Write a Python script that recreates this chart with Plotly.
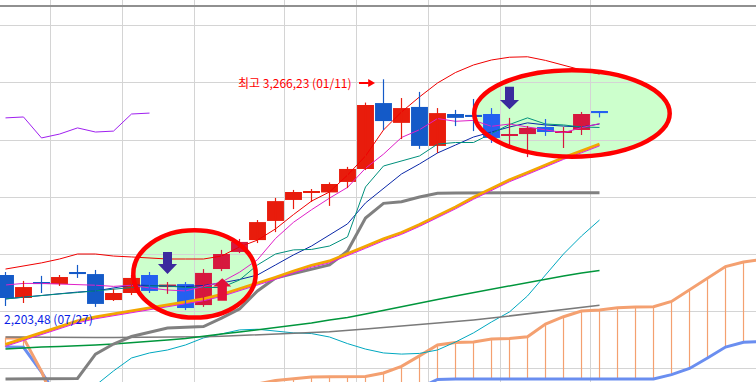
import plotly.graph_objects as go

# ---------------- data (KOSPI weekly) ----------------
weeks = ["2020-08-17", "2020-08-24", "2020-08-31", "2020-09-07", "2020-09-14", "2020-09-21",
         "2020-09-28", "2020-10-05", "2020-10-12", "2020-10-19", "2020-10-26", "2020-11-02",
         "2020-11-09", "2020-11-16", "2020-11-23", "2020-11-30", "2020-12-07", "2020-12-14",
         "2020-12-21", "2020-12-28", "2021-01-04", "2021-01-11", "2021-01-18", "2021-01-25",
         "2021-02-01", "2021-02-08", "2021-02-15", "2021-02-22", "2021-03-01", "2021-03-08",
         "2021-03-15", "2021-03-22", "2021-03-29", "2021-04-05"]

opens = [2408, 2307, 2373, 2368, 2421, 2412, 2298, 2329, 2408, 2355, 2368, 2276, 2434, 2509, 2561, 2645, 2737,
         2768, 2770, 2816, 2873, 3162, 3075, 3145, 2974, 3114, 3110, 3114, 3018, 3026, 3057, 3035, 3044, 3123]
highs = [2421, 2382, 2404, 2408, 2452, 2430, 2346, 2408, 2421, 2377, 2377, 2434, 2518, 2566, 2649, 2746, 2781,
         2785, 2814, 2882, 3164, 3266.23, 3184, 3211, 3140, 3132, 3180, 3140, 3097, 3061, 3092, 3057, 3123, 3123]
lows = [2272, 2285, 2329, 2360, 2395, 2268, 2294, 2320, 2329, 2325, 2254, 2268, 2425, 2504, 2548, 2596, 2697,
        2728, 2711, 2789, 2868, 3044, 3004, 2961, 2943, 3061, 3039, 2987, 2978, 2925, 3018, 2965, 3022, 3099]
closes = [2307, 2355, 2368, 2399, 2412, 2281, 2329, 2395, 2338, 2366, 2263, 2417, 2500, 2553, 2640, 2732, 2772,
          2773, 2807, 2873, 3154, 3083, 3140, 2974, 3118, 3097, 3101, 3009, 3026, 3053, 3035, 3039, 3114, 3118]

ma5 = [2364, 2371, 2371, 2368, 2368, 2363, 2358, 2363, 2351, 2342, 2338, 2356, 2377, 2420, 2475, 2568, 2639,
       2694, 2745, 2792, 2876, 2938, 3011, 3045, 3094, 3082, 3086, 3060, 3070, 3057, 3045, 3032, 3054, 3072]
ma10 = [2303, 2311, 2320, 2327, 2333, 2338, 2351, 2364, 2362, 2360, 2357, 2362, 2373, 2388, 2408, 2452, 2496,
        2535, 2583, 2632, 2724, 2789, 2851, 2895, 2943, 2978, 3013, 3035, 3057, 3075, 3066, 3061, 3057, 3070]
ma20 = [2103, 2129, 2156, 2182, 2206, 2224, 2237, 2250, 2263, 2276, 2289, 2303, 2322, 2346, 2373, 2397, 2425,
        2450, 2469, 2500, 2533, 2566, 2594, 2629, 2667, 2706, 2748, 2787, 2825, 2857, 2890, 2923, 2952, 2982]
ma60 = [2083, 2088, 2092, 2094, 2096, 2101, 2105, 2110, 2116, 2123, 2129, 2140, 2149, 2158, 2167, 2178, 2186,
        2197, 2211, 2221, 2237, 2252, 2270, 2285, 2300, 2316, 2331, 2346, 2362, 2377, 2390, 2404, 2417, 2428]
ma120 = [2136, 2135, 2134, 2134, 2134, 2134, 2134, 2134, 2134, 2135, 2136, 2137, 2139, 2143, 2146, 2149, 2152,
         2156, 2159, 2164, 2171, 2178, 2184, 2191, 2197, 2204, 2211, 2219, 2228, 2237, 2246, 2254, 2265, 2275]
bb_upper = [2434, 2447, 2461, 2478, 2500, 2500, 2491, 2487, 2482, 2478, 2478, 2478, 2491, 2531, 2561, 2610, 2673,
            2732, 2772, 2846, 2930, 3044, 3123, 3189, 3250, 3296, 3329, 3351, 3363, 3365, 3349, 3327, 3307, 3289]
bb_mid = [2095, 2121, 2148, 2174, 2198, 2216, 2229, 2242, 2255, 2268, 2281, 2295, 2314, 2338, 2365, 2389, 2417,
          2442, 2461, 2492, 2525, 2558, 2586, 2621, 2659, 2698, 2740, 2779, 2817, 2849, 2882, 2915, 2944, 2974]
bb_lower = [1756, 1768, 1790, 1830, 1860, 1925, 1987, 2044, 2066, 2079, 2101, 2132, 2151, 2167, 2170, 2162, 2154,
            2151, 2136, 2107, 2083, 2066, 2061, 2064, 2079, 2114, 2154, 2202, 2246, 2316, 2408, 2500, 2579, 2649]
tenkan = [2303, 2311, 2320, 2325, 2331, 2338, 2346, 2353, 2360, 2360, 2353, 2353, 2353, 2386, 2452, 2500, 2518,
          2520, 2535, 2575, 2794, 2886, 2908, 2930, 2982, 2989, 2989, 3029, 3068, 3097, 3070, 3066, 3057, 3055]
kijun = [1952, 1952, 1952, 1952, 1954, 2061, 2105, 2138, 2156, 2175, 2179, 2182, 2219, 2259, 2338, 2395, 2414,
         2434, 2452, 2513, 2658, 2722, 2729, 2750, 2766, 2768, 2768, 2768, 2768, 2768, 2768, 2768, 2768, 2769]
span_a = [2132, 2132, 1985, 1794, 1772, 1772, 1781, 1794, 1816, 1838, 1860, 1877, 1895, 1912, 1930, 1945, 1954,
          1961, 1962, 1962, 1963, 1978, 2007, 2053, 2101, 2112, 2114, 2127, 2129, 2137, 2193, 2225, 2250, 2254,
          2264, 2268, 2269, 2292, 2342, 2395, 2445, 2465, 2476]
span_b = [2092, 2091, 1982, 1860, 1868, 1868, 1868, 1868, 1868, 1868, 1868, 1868, 1868, 1868, 1868, 1868, 1868,
          1868, 1868, 1868, 1868, 1868, 1868, 1912, 1950, 1952, 1952, 1952, 1952, 1952, 1952, 1952, 1952, 1952,
          1952, 1952, 1952, 1971, 1998, 2044, 2092, 2113, 2116]
LAG = 25  # lagging span shift

high_label = "최고 3,266,23 (01/11)"
high_week = "2021-01-11"
low_label = "2,203,48 (07/27)"
highlight_weeks = [["2020-10-12", "2020-11-16"], ["2021-02-22", "2021-04-05"]]

# ---------------- derived positions ----------------
idx = list(range(len(weeks)))
cidx = list(range(len(span_a)))
chikou = closes[LAG:]
chikou_idx = idx[:len(chikou)]
month_edges = [i + 0.5 for i in range(len(weeks) - 1) if weeks[i][5:7] != weeks[i + 1][5:7]]

def highlighted(w):
    return any(a <= w <= b for a, b in highlight_weeks)

RED, CRIMSON, BLUE, BBLUE = "#E81C0C", "#D6183E", "#145AC8", "#2460F0"
colors = []
for w, o, c in zip(weeks, opens, closes):
    up = c >= o
    hl = highlighted(w)
    colors.append((CRIMSON if hl else RED) if up else (BBLUE if hl else BLUE))

fig = go.Figure()

# ichimoku cloud hatch
hx, hy = [], []
for i, a, b in zip(cidx, span_a, span_b):
    hx += [i, i, None]
    hy += [a, b, None]
fig.add_trace(go.Scatter(x=hx, y=hy, mode="lines", line=dict(color="#F4A070", width=1.2), hoverinfo="skip"))
fig.add_trace(go.Scatter(x=cidx, y=span_b, mode="lines", line=dict(color="#6A8EF0", width=3), hoverinfo="skip"))
fig.add_trace(go.Scatter(x=cidx, y=span_a, mode="lines", line=dict(color="#F4A070", width=3), hoverinfo="skip"))

def line(y, color, width, x=None):
    fig.add_trace(go.Scatter(x=idx if x is None else x, y=y, mode="lines",
                             line=dict(color=color, width=width), hoverinfo="skip"))

line(bb_lower, "#00A8C0", 1)
line(ma120, "#7A7A7A", 1.5)
line(ma60, "#00963C", 1.5)
line(kijun, "#808080", 3)
line(ma20, "#F2A600", 3)
line(bb_mid, "#E020E0", 1)
line(ma10, "#0A28A8", 1)
line(tenkan, "#00907C", 1)
line(ma5, "#E020C8", 1)
line(bb_upper, "#F00000", 1)
line(chikou, "#A020F0", 1, x=chikou_idx)

# wicks
for col in [RED, CRIMSON, BLUE, BBLUE]:
    wx, wy = [], []
    for i, h, l, c in zip(idx, highs, lows, colors):
        if c == col:
            wx += [i, i, None]
            wy += [l, h, None]
    if wx:
        fig.add_trace(go.Scatter(x=wx, y=wy, mode="lines", line=dict(color=col, width=1.2), hoverinfo="skip"))

# candle bodies
fig.add_trace(go.Bar(x=idx, y=[c - o for o, c in zip(opens, closes)], base=opens, width=0.94,
                     marker=dict(color=colors, line=dict(width=0)), hoverinfo="skip"))

# ---------------- shapes ----------------
shapes = []
ellipses = [(7.1, 13.9, 2221, 2604), (26.04, 36.9, 2927, 3306)]
for x0, x1, y0, y1 in ellipses:
    shapes.append(dict(type="circle", xref="x", yref="y", x0=x0, x1=x1, y0=y0, y1=y1,
                       fillcolor="#CCFFCC", line=dict(width=0), layer="below"))
    shapes.append(dict(type="circle", xref="x", yref="y", x0=x0, x1=x1, y0=y0, y1=y1,
                       fillcolor="rgba(0,0,0,0)", line=dict(color="#FF0000", width=4.5), layer="above"))

def down_arrow(cx, top, neck, tip, sw, hw, color):
    p = (f"M {cx - sw} {top} L {cx + sw} {top} L {cx + sw} {neck} L {cx + hw} {neck} "
         f"L {cx} {tip} L {cx - hw} {neck} L {cx - sw} {neck} Z")
    return dict(type="path", xref="x", yref="y", path=p, fillcolor=color, line=dict(width=0), layer="above")

shapes.append(down_arrow(weeks.index("2020-10-26") - 1, 2509, 2456, 2412, 0.25, 0.53, "#3B2A9E"))
shapes.append(down_arrow(weeks.index("2021-03-01"), 3234, 3175, 3135, 0.25, 0.53, "#3B2A9E"))
shapes.append(down_arrow(weeks.index("2020-11-09") + 0.04, 2295, 2357, 2394, 0.26, 0.5, "#E2103A"))

# separator line at the top
shapes.append(dict(type="line", xref="paper", yref="paper", x0=0, x1=1, y0=0.984, y1=0.984,
                   line=dict(color="#909090", width=2), layer="above"))

# high marker arrow
hk = weeks.index(high_week)
shapes.append(dict(type="line", xref="x", yref="y", x0=hk - 1.36, x1=hk - 0.82, y0=3250, y1=3250,
                   line=dict(color="#FF0000", width=2)))
shapes.append(dict(type="path", xref="x", yref="y",
                   path=f"M {hk - 0.85} 3268 L {hk - 0.47} 3250 L {hk - 0.85} 3232 Z",
                   fillcolor="#FF0000", line=dict(width=0)))

annotations = [
    dict(x=hk - 1.62, y=3251, xref="x", yref="y", text=high_label, showarrow=False,
         xanchor="right", yanchor="middle", font=dict(color="#FF0000", size=12, family="Noto Sans CJK KR")),
    dict(x=-0.22, y=2219, xref="x", yref="y", text=low_label, showarrow=False,
         xanchor="left", yanchor="middle", font=dict(color="#0A1EE6", size=12, family="Noto Sans CJK KR")),
]

fig.update_layout(
    width=756, height=382, margin=dict(l=0, r=0, t=0, b=0),
    paper_bgcolor="white", plot_bgcolor="white", showlegend=False,
    barmode="overlay", shapes=shapes, annotations=annotations,
    font=dict(family="Noto Sans CJK KR"),
)
fig.update_xaxes(range=[-0.3056, 41.694], tickvals=month_edges, showticklabels=False, ticks="",
                 showgrid=True, gridcolor="#D4D4D4", gridwidth=1, zeroline=False, showline=False)
fig.update_yaxes(range=[1938.6, 3614.0], tick0=0, dtick=250, showticklabels=False, ticks="",
                 showgrid=True, gridcolor="#D4D4D4", gridwidth=1, zeroline=False, showline=False)

fig.write_html("out.html", config={"displayModeBar": False},
               post_script="document.body.style.margin='0';document.body.style.overflow='hidden';")
